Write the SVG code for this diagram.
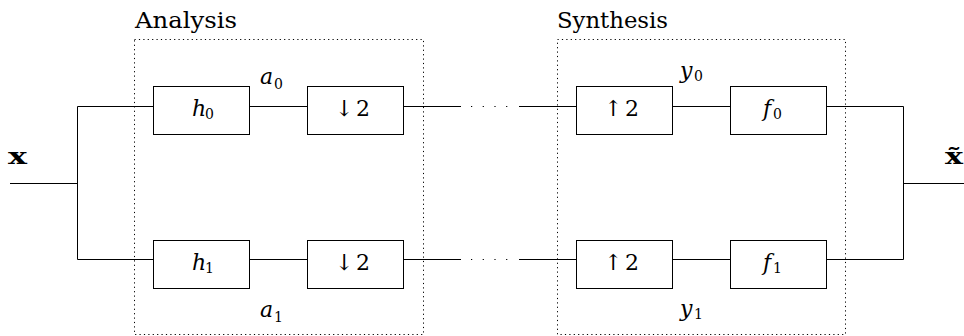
<svg xmlns="http://www.w3.org/2000/svg" width="964" height="336" viewBox="0 0 964 336">
<style>
.blk{fill:#fff;stroke:#000;stroke-width:1}
.grp{fill:none;stroke:#000;stroke-width:1;stroke-dasharray:1.2 3.2}
.w{fill:none;stroke:#000;stroke-width:1}
.dots{fill:none;stroke:#000;stroke-width:1.2;stroke-dasharray:1.2 10.5}
text{font-family:'DejaVu Serif','Liberation Serif',serif;fill:#000}
.t{font-size:23px}
.n{font-size:22px}
.m{font-style:italic;font-size:22px}
.s{font-size:14px}
.b{font-weight:bold;font-size:22px}
</style>
<g id="analysis">
<rect class="grp" x="134.5" y="39.5" width="289" height="295"/>
<text class="t" x="135" y="28" textLength="102" lengthAdjust="spacingAndGlyphs">Analysis</text>
</g>
<g id="synthesis">
<rect class="grp" x="557.5" y="39.5" width="288" height="295"/>
<text class="t" x="557" y="28" textLength="111" lengthAdjust="spacingAndGlyphs">Synthesis</text>
</g>
<g id="connectors">
<path class="w" d="M10 183.5H77.5M77.5 106.5V259.5M77.5 106.5H153M77.5 259.5H153"/>
<path class="w" d="M249 106.5H307M403 106.5H461M519 106.5H576M672 106.5H730M826 106.5H903.5V259.5H826M672 259.5H730M519 259.5H576M403 259.5H461M249 259.5H307M903.5 183.5H964"/>
<path class="dots" d="M471 106.5H515M471 259.5H515"/>
</g>
<g id="x-in"><text class="b" x="8" y="164" textLength="19" lengthAdjust="spacingAndGlyphs">x</text></g>
<g id="x-out"><text class="b" x="945" y="164" textLength="18" lengthAdjust="spacingAndGlyphs">x̃</text></g>
<g id="h0"><rect class="blk" x="153.5" y="86.5" width="96" height="48"/><text class="m" x="192" y="116">h</text><text class="s" x="205" y="119">0</text></g>
<g id="down0"><rect class="blk" x="307.5" y="86.5" width="96" height="48"/><text class="n" x="335" y="116">↓</text><text class="n" x="356" y="116">2</text></g>
<g id="up0"><rect class="blk" x="576.5" y="86.5" width="96" height="48"/><text class="n" x="604" y="116">↑</text><text class="n" x="625" y="116">2</text></g>
<g id="f0"><rect class="blk" x="730.5" y="86.5" width="96" height="48"/><text class="m" x="763" y="116">f</text><text class="s" x="773" y="119">0</text></g>
<g id="h1"><rect class="blk" x="153.5" y="240.5" width="96" height="48"/><text class="m" x="192" y="270">h</text><text class="s" x="205" y="273">1</text></g>
<g id="down1"><rect class="blk" x="307.5" y="240.5" width="96" height="48"/><text class="n" x="335" y="270">↓</text><text class="n" x="356" y="270">2</text></g>
<g id="up1"><rect class="blk" x="576.5" y="240.5" width="96" height="48"/><text class="n" x="604" y="270">↑</text><text class="n" x="625" y="270">2</text></g>
<g id="f1"><rect class="blk" x="730.5" y="240.5" width="96" height="48"/><text class="m" x="763" y="270">f</text><text class="s" x="773" y="273">1</text></g>
<g id="a0"><text class="m" x="260" y="84">a</text><text class="s" x="274" y="89">0</text></g>
<g id="a1"><text class="m" x="260" y="317">a</text><text class="s" x="274" y="322">1</text></g>
<g id="y0"><text class="m" x="680" y="78">y</text><text class="s" x="694" y="81">0</text></g>
<g id="y1"><text class="m" x="680" y="316">y</text><text class="s" x="694" y="319">1</text></g>
</svg>
